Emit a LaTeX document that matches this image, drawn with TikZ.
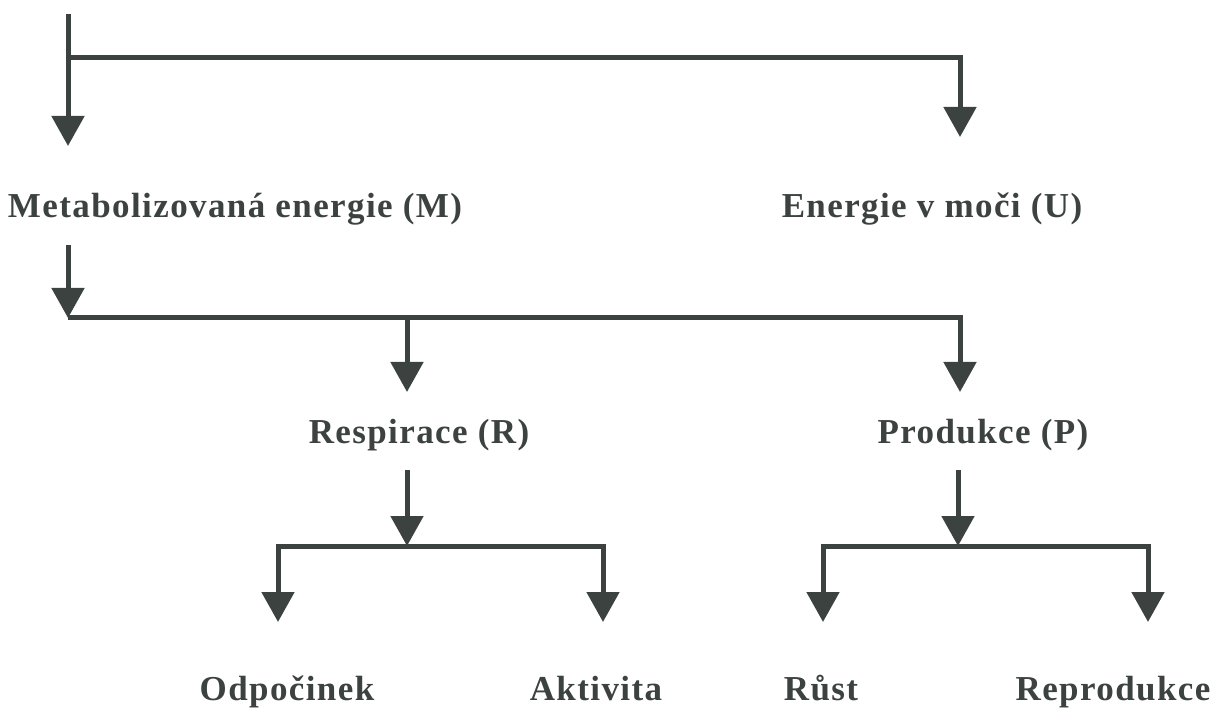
\documentclass[tikz,border=0pt]{standalone}
\usepackage{fontspec}
\setmainfont{Liberation Serif}[LetterSpace=4]
\usetikzlibrary{arrows.meta}
\definecolor{ink}{HTML}{3C423F}
\begin{document}
\begin{tikzpicture}[x=1pt, y=-1pt, line width=5pt, draw=ink,
  flow/.style={-{Triangle[width=32pt,length=30pt]}, line join=miter},
  lbl/.style={font=\fontsize{35}{38}\selectfont\bfseries, text=ink, inner sep=0pt, anchor=base}]
\useasboundingbox (0,0) rectangle (1224,708);
% texts
\node[lbl] (M) at (235,218) {Metabolizovaná energie (M)};
\node[lbl] (U) at (932,218) {Energie v moči (U)};
\node[lbl] (R) at (419,443) {Respirace (R)};
\node[lbl] (P) at (983,443) {Produkce (P)};
\node[lbl] (odp) at (287,700) {Odpočinek};
\node[lbl] (akt) at (596,700) {Aktivita};
\node[lbl] (rust) at (821,700) {Růst};
\node[lbl] (repro) at (1113,700) {Reprodukce};
% branch points and tips
\coordinate (in) at (68,14);
\coordinate (s1) at (68,58);
\coordinate (tipM) at (68,146);
\coordinate (tipU) at (960,137);
\coordinate (fromM) at (68,245);
\coordinate (s2) at (68,318);
\coordinate (tipR) at (407,392);
\coordinate (tipP) at (960,392);
\coordinate (fromR) at (407,470);
\coordinate (s3) at (407,546);
\coordinate (tipO) at (278,622);
\coordinate (tipA) at (603,622);
\coordinate (fromP) at (958,470);
\coordinate (s4) at (958,546);
\coordinate (tipRu) at (823,622);
\coordinate (tipRe) at (1148,622);
% connectors
\draw[flow] (in) -- (tipM);
\draw[flow] (s1) -| (tipU);
\draw[flow] (fromM) -- (s2);
\draw[flow] (s2) -| (tipP);
\draw[flow] (tipR |- s2) -- (tipR);
\draw[flow] (fromR) -- (s3);
\draw[flow] (s3) -| (tipO);
\draw[flow] (s3) -| (tipA);
\draw[flow] (fromP) -- (s4);
\draw[flow] (s4) -| (tipRu);
\draw[flow] (s4) -| (tipRe);
\end{tikzpicture}
\end{document}
